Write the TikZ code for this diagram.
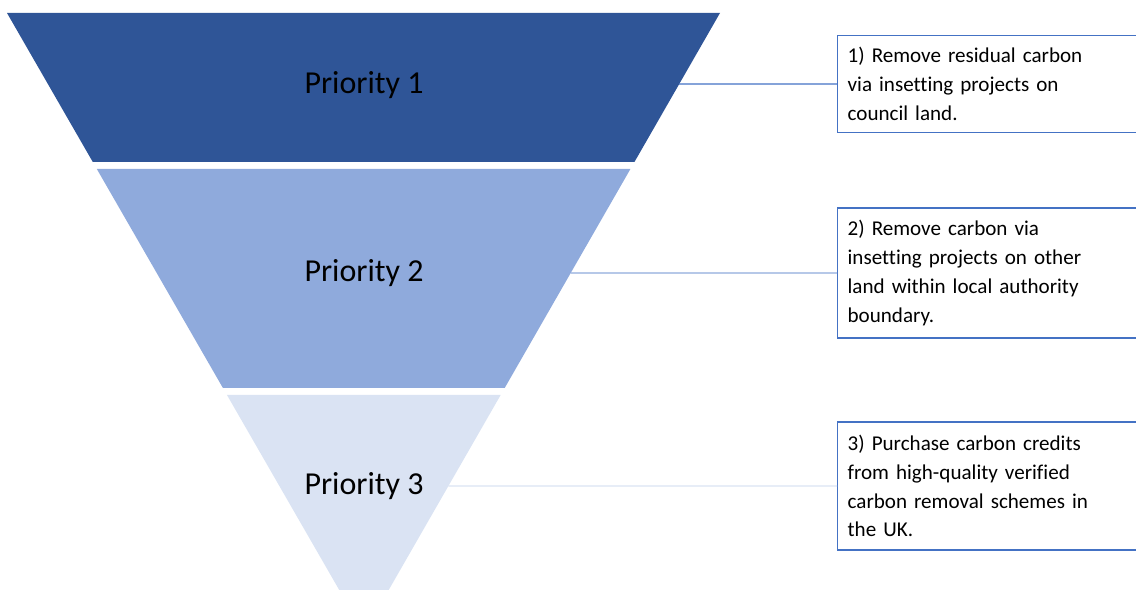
\documentclass[tikz,border=0pt]{standalone}
\usepackage{fontspec}
\setmainfont[Ligatures=NoCommon]{Carlito}
\usepackage{tikz}
\usetikzlibrary{calc, positioning}

\definecolor{prioA}{HTML}{2F5597}
\definecolor{prioB}{HTML}{8FAADC}
\definecolor{prioC}{HTML}{DAE3F3}
\definecolor{edgeblue}{HTML}{4472C4}

\begin{document}
\begin{tikzpicture}[
  x=0.02cm, y=-0.02cm,
  every node/.style={font=\fontsize{18.2}{22}\selectfont},
  notebox/.style={draw=edgeblue, line width=0.75pt, anchor=west, text width=5.8cm,
                  align=left, inner xsep=0.2cm, fill=white,
                  font=\fontsize{12}{16.4}\selectfont},
  link/.style={line width=0.6pt},
]
\useasboundingbox (0,0) rectangle (1136,590);
\clip (0,0) rectangle (1136,590);

% ---- funnel, cut from one big triangle ----
\coordinate (tl) at (7,13);
\coordinate (tr) at (720,13);
\coordinate (apex) at (364,633);

\fill[prioA] (tl) -- (tr) -- ($(tr)!0.2403!(apex)$) -- ($(tl)!0.2403!(apex)$) -- cycle;
\fill[prioB] ($(tl)!0.2516!(apex)$) -- ($(tr)!0.2516!(apex)$)
  -- ($(tr)!0.6048!(apex)$) -- ($(tl)!0.6048!(apex)$) -- cycle;
\fill[prioC] ($(tl)!0.6161!(apex)$) -- ($(tr)!0.6161!(apex)$) -- (apex) -- cycle;

\node (p1) at (364,85) {Priority 1};
\node (p2) at (364,273) {Priority 2};
\node (p3) at (364,486) {Priority 3};

% points on the right edge where the leaders start
\coordinate (e1) at ($(tr)!0.1145!(apex)$);
\coordinate (e2) at ($(tr)!0.4194!(apex)$);
\coordinate (e3) at ($(tr)!0.7629!(apex)$);

% ---- notes on the right ----
\node[notebox, minimum height=1.94cm] (n1) at (837,84)
  {1) Remove residual carbon\\via insetting projects on\\council land.};
\node[notebox, minimum height=2.6cm] (n2) at (837,273)
  {2) Remove carbon via\\insetting projects on other\\land within local authority\\boundary.};
\node[notebox, minimum height=2.56cm] (n3) at (837,486)
  {3) Purchase carbon credits\\from high-quality verified\\carbon removal schemes in\\the UK.};

\draw[link, edgeblue] (e1) -- (n1.west);
\draw[link, prioB] (e2) -- (n2.west);
\draw[link, prioC] (e3) -- (n3.west);

\end{tikzpicture}
\end{document}
